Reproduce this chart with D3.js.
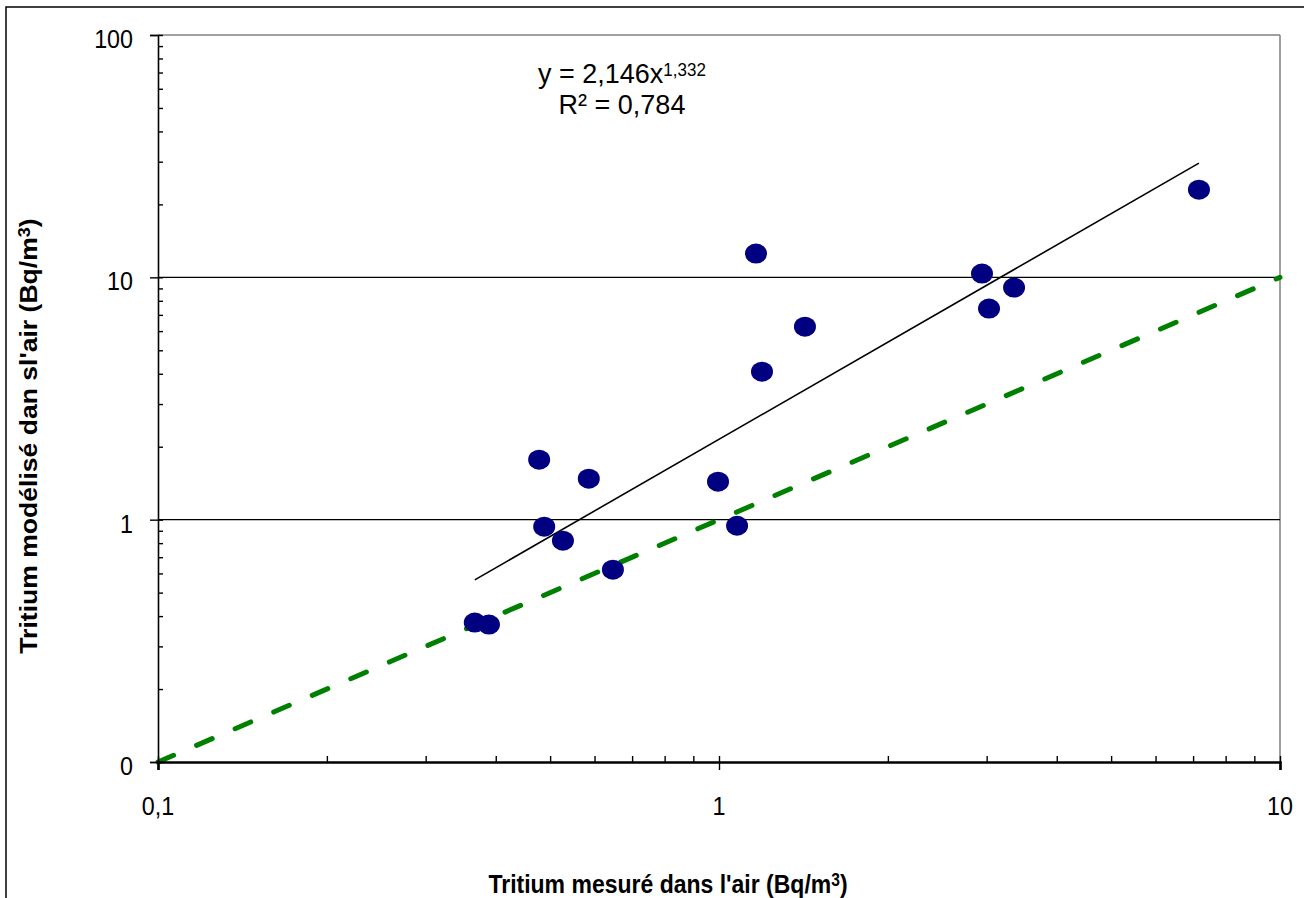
<!DOCTYPE html>
<html lang="fr">
<head>
<meta charset="UTF-8">
<title>Tritium</title>
<script src="https://d3js.org/d3.v7.min.js"></script>
<style>
  body { margin: 0; background: #fff; }
  text { font-family: Arial, "Liberation Sans", sans-serif; fill: #000; }
</style>
</head>
<body>
<div id="chart"></div>
<script>
var measured = [0.367, 0.389, 0.478, 0.488, 0.527, 0.586, 0.647, 0.996, 1.077, 1.164, 1.193, 1.423, 2.943, 3.029, 3.357, 7.17];
var modelled = [0.376, 0.369, 1.769, 0.936, 0.819, 1.476, 0.622, 1.435, 0.944, 12.53, 4.08, 6.26, 10.36, 7.43, 9.07, 23.0];

// power trendline shown on the chart
var fitCoef = 2.146, fitExp = 1.332;
var fitLabel = ["y = 2,146x", "1,332"];
var r2Label = "R² = 0,784";

var xTicks = [0.1, 1, 10];
var xTickLabels = ["0,1", "1", "10"];
var yTicks = [0.1, 1, 10, 100];
var yTickLabels = ["0", "1", "10", "100"];
var yGrid = [1, 10];

var W = 1304, H = 898;
var sy = 1.14; // the picture is a bit stretched vertically

var svg = d3.select("#chart").append("svg")
    .attr("width", W).attr("height", H);

svg.append("rect").attr("width", W).attr("height", H).attr("fill", "#fff");
// chart frame (cropped on the right and bottom)
svg.append("rect")
    .attr("x", 6).attr("y", 7).attr("width", W + 20).attr("height", H + 20)
    .attr("fill", "none").attr("stroke", "#000").attr("stroke-width", 1.5);

var x = d3.scaleLog().domain([0.1, 10]).range([158, 1280]);
var y = d3.scaleLog().domain([0.1, 100]).range([762, 35]);

// helper: text with vertical stretch
function label(str, px, py, size, anchor, bold) {
    return svg.append("text")
        .attr("transform", "translate(" + px + "," + py + ") scale(1," + sy + ")")
        .attr("text-anchor", anchor)
        .style("font-size", size + "px")
        .style("font-weight", bold ? "bold" : "normal")
        .text(str);
}

// plot area border (grey top / right)
svg.append("line")
    .attr("x1", x(0.1)).attr("x2", x(10)).attr("y1", y(100)).attr("y2", y(100))
    .attr("stroke", "#808080").attr("stroke-width", 1.5);
svg.append("line")
    .attr("x1", x(10)).attr("x2", x(10)).attr("y1", y(100)).attr("y2", y(0.1))
    .attr("stroke", "#808080").attr("stroke-width", 1.5);

// gridlines
svg.selectAll(".grid").data(yGrid).enter().append("line")
    .attr("class", "grid")
    .attr("x1", x(0.1)).attr("x2", x(10))
    .attr("y1", function(d) { return y(d); }).attr("y2", function(d) { return y(d); })
    .attr("stroke", "#000").attr("stroke-width", 1.3);

// y = x reference line
svg.append("line")
    .attr("x1", x(0.1)).attr("y1", y(0.1)).attr("x2", x(10)).attr("y2", y(10))
    .attr("stroke", "#008000").attr("stroke-width", 5)
    .attr("stroke-linecap", "round").attr("stroke-dasharray", "17,25");

// trendline over the range of the data
var xmin = d3.min(measured), xmax = d3.max(measured);
var trend = [xmin, xmax].map(function(v) { return [v, fitCoef * Math.pow(v, fitExp)]; });
svg.append("path")
    .datum(trend)
    .attr("d", d3.line().x(function(d) { return x(d[0]); }).y(function(d) { return y(d[1]); }))
    .attr("fill", "none").attr("stroke", "#000").attr("stroke-width", 1.6);

// points
var pts = measured.map(function(v, i) { return { x: v, y: modelled[i] }; });
svg.selectAll(".pt").data(pts).enter().append("ellipse")
    .attr("class", "pt")
    .attr("cx", function(d) { return x(d.x); })
    .attr("cy", function(d) { return y(d.y); })
    .attr("rx", 11).attr("ry", 10)
    .attr("fill", "#000080");

// axes
var yLeft = svg.append("g").attr("transform", "translate(" + x(0.1) + ",0)")
    .call(d3.axisLeft(y).tickValues(yTicks).tickSize(8).tickFormat(""));
var yIn = svg.append("g").attr("transform", "translate(" + x(0.1) + ",0)")
    .call(d3.axisRight(y).tickValues(y.ticks()).tickSize(5).tickFormat(""));
yIn.select(".domain").remove();
yLeft.select(".domain").attr("stroke-width", 1.6);

var xBottom = svg.append("g").attr("transform", "translate(0," + y(0.1) + ")")
    .call(d3.axisBottom(x).tickValues(xTicks).tickSize(8).tickFormat(""));
var xIn = svg.append("g").attr("transform", "translate(0," + y(0.1) + ")")
    .call(d3.axisTop(x).tickValues(x.ticks()).tickSize(6).tickFormat(""));
xIn.select(".domain").remove();
xBottom.select(".domain").attr("stroke-width", 2.6);
svg.selectAll(".tick line").attr("stroke-width", 1.4);

// tick labels
yTicks.forEach(function(v, i) {
    label(yTickLabels[i], 133, y(v) + 13, 23.3, "end", false);
});
xTicks.forEach(function(v, i) {
    label(xTickLabels[i], x(v), 815, 23.3, "middle", false);
});

// axis titles
var xt = label("Tritium mesuré dans l'air (Bq/m", 668, 893, 23, "middle", true);
xt.append("tspan").attr("dy", "-0.42em").style("font-size", "0.68em").text("3");
xt.append("tspan").attr("dy", "0.29em").text(")");

var yt = svg.append("text")
    .attr("transform", "translate(37,436) rotate(-90) scale(" + sy + ",1)")
    .attr("text-anchor", "middle")
    .style("font-size", "23.3px").style("font-weight", "bold")
    .text("Tritium modélisé dan sl'air (Bq/m");
yt.append("tspan").attr("dy", "-0.42em").style("font-size", "0.68em").text("3");
yt.append("tspan").attr("dy", "0.29em").text(")");

// trendline equation
var eq = svg.append("text")
    .attr("transform", "translate(622,83) scale(1,1.05)")
    .attr("text-anchor", "middle")
    .style("font-size", "27px");
eq.append("tspan").text(fitLabel[0]);
eq.append("tspan").attr("dy", "-0.42em").style("font-size", "0.63em").text(fitLabel[1]);
svg.append("text")
    .attr("transform", "translate(622,114) scale(1,1.05)")
    .attr("text-anchor", "middle")
    .style("font-size", "27px")
    .text(r2Label);
</script>
</body>
</html>
